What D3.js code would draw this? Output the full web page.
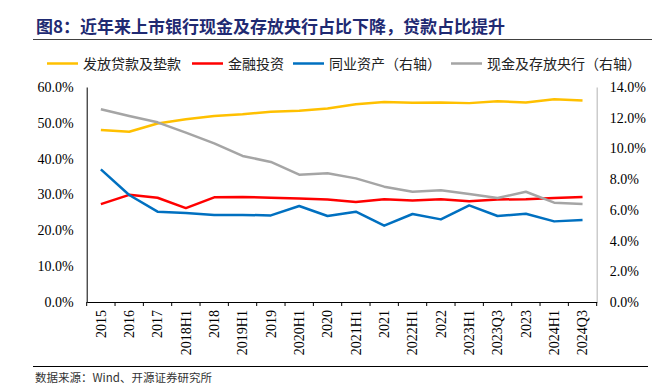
<!DOCTYPE html>
<html><head><meta charset="utf-8">
<script src="https://cdn.jsdelivr.net/npm/d3@7/dist/d3.min.js"></script>
<style>
html,body{margin:0;padding:0;background:#fff;}
svg{display:block;}
</style></head>
<body>
<svg id="c" width="657" height="385"></svg>
<script>
const categories = ['2015','2016','2017','2018H1','2018','2019H1','2019','2020H1','2020','2021H1','2021','2022H1','2022','2023H1','2023Q3','2023','2024H1','2024Q3'];
const loans = [48.0,47.5,49.8,51.0,51.9,52.4,53.1,53.4,54.0,55.2,55.8,55.6,55.7,55.5,56.0,55.7,56.6,56.2];
const invest = [27.3,29.9,29.1,26.2,29.2,29.3,29.1,28.9,28.6,27.9,28.7,28.3,28.7,28.1,28.6,28.7,29.0,29.3];
const interbank = [8.64,6.97,5.88,5.80,5.67,5.67,5.64,6.25,5.60,5.88,4.97,5.73,5.38,6.29,5.60,5.75,5.25,5.34];
const cash = [12.55,12.11,11.70,11.03,10.33,9.51,9.12,8.29,8.38,8.05,7.51,7.18,7.27,7.03,6.77,7.18,6.47,6.38];
const leftTicks = [0,10,20,30,40,50,60];
const rightTicks = [0,2,4,6,8,10,12,14];
const seriesNames = ['发放贷款及垫款','金融投资','同业资产（右轴）','现金及存放央行（右轴）'];

const serif = "'Liberation Serif','Times New Roman',serif";
const cjk = "'Noto Sans CJK SC','Noto Sans',sans-serif";
const svg = d3.select('#c');
const L = 86.7, R = 596.7, T = 87, B = 302;

const x = d3.scaleBand().domain(categories).range([L, R]);
const yL = d3.scaleLinear().domain([0,60]).range([B, T]);
const yR = d3.scaleLinear().domain([0,14]).range([B, T]);

// title
svg.append('text').attr('x',36).attr('y',32.5)
  .attr('font-family',cjk).attr('font-weight','bold').attr('font-size',17)
  .attr('fill','#1f2a72').text('图8：近年来上市银行现金及存放央行占比下降，贷款占比提升');
svg.append('line').attr('x1',33).attr('x2',652).attr('y1',39.5).attr('y2',39.5)
  .attr('stroke','#404040').attr('stroke-width',1.2);

// legend
const series = [
  {name:seriesNames[0], data:loans, y:yL, color:'#FFC000', lx:47, tx:83},
  {name:seriesNames[1], data:invest, y:yL, color:'#FF0000', lx:192, tx:228},
  {name:seriesNames[2], data:interbank, y:yR, color:'#0070C0', lx:293, tx:329},
  {name:seriesNames[3], data:cash, y:yR, color:'#A5A5A5', lx:451, tx:487}
];
const lg = svg.append('g');
series.forEach(s=>{
  lg.append('line').attr('x1',s.lx).attr('x2',s.lx+31).attr('y1',63.5).attr('y2',63.5)
    .attr('stroke',s.color).attr('stroke-width',2.5);
  lg.append('text').attr('x',s.tx).attr('y',68.5).attr('font-family',cjk).attr('font-size',14)
    .attr('fill','#222').text(s.name);
});

// axes
const gl = svg.append('g').attr('transform',`translate(${L},0)`)
  .call(d3.axisLeft(yL).tickValues(leftTicks).tickFormat(d=>d.toFixed(1)+'%').tickSize(0).tickPadding(13));
gl.select('.domain').attr('stroke','#000');
gl.selectAll('text').attr('font-family',serif).attr('font-size',14).attr('fill','#000');

const gr = svg.append('g').attr('transform',`translate(${R},0)`)
  .call(d3.axisRight(yR).tickValues(rightTicks).tickFormat(d=>d.toFixed(1)+'%').tickSize(0).tickPadding(13));
gr.select('.domain').attr('stroke','#bfbfbf').attr('stroke-width',1.2);
gr.selectAll('text').attr('font-family',serif).attr('font-size',14).attr('fill','#000');

const gb = svg.append('g').attr('transform',`translate(0,${B})`)
  .call(d3.axisBottom(x).tickSize(0).tickPadding(8));
gb.select('.domain').attr('stroke','#000');
gb.selectAll('.tick text').attr('font-family',serif).attr('font-size',14).attr('fill','#000')
  .attr('transform','rotate(-90)').attr('text-anchor','end').attr('dy','0.35em').attr('x',-8).attr('y',0);
// boundary ticks
const bounds = categories.map(c=>x(c)).concat([x.range()[1]]);
svg.append('g').selectAll('line').data(bounds).join('line')
  .attr('x1',d=>d).attr('x2',d=>d).attr('y1',B).attr('y2',B+4)
  .attr('stroke','#000').attr('stroke-width',1);

// lines
series.forEach(s=>{
  const line = d3.line().x((d,i)=>x(categories[i])+x.bandwidth()/2).y(d=>s.y(d));
  svg.append('path').datum(s.data).attr('d',line).attr('fill','none')
    .attr('stroke',s.color).attr('stroke-width',2.5).attr('stroke-linejoin','round');
});

// footer
svg.append('line').attr('x1',33).attr('x2',648).attr('y1',366.5).attr('y2',366.5)
  .attr('stroke','#000').attr('stroke-width',1);
svg.append('text').attr('x',35).attr('y',381.5).attr('font-family',cjk).attr('font-size',11.5)
  .attr('fill','#333').text('数据来源：Wind、开源证券研究所');
</script>
</body></html>
